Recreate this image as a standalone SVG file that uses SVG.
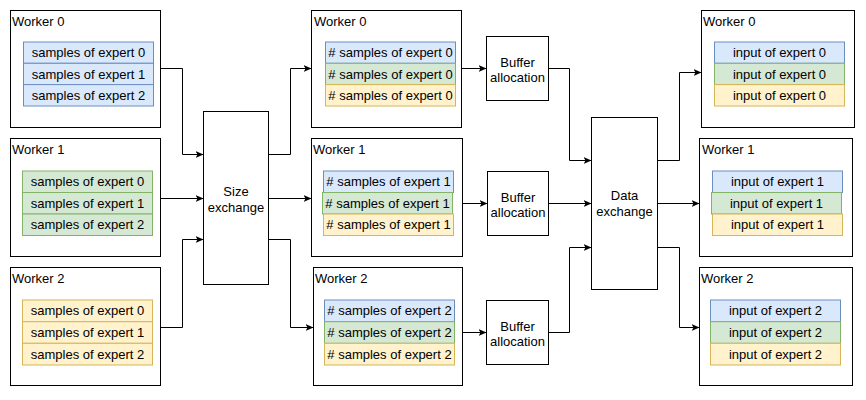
<svg xmlns="http://www.w3.org/2000/svg" width="866" height="400" viewBox="0 0 866 400">
<style>
  text { font-family: "Liberation Sans", Arial, sans-serif; font-size: 13px; fill: #000; }
  .box { fill: #fff; stroke: #000; stroke-width: 1; }
  .blue { fill: #dae8fc; stroke: #6c8ebf; stroke-width: 1; }
  .green { fill: #d5e8d4; stroke: #82b366; stroke-width: 1; }
  .yellow { fill: #fff2cc; stroke: #d6b656; stroke-width: 1; }
  .c { text-anchor: middle; }
  .conn path { fill: none; stroke: #000; stroke-width: 1; marker-end: url(#arr); }
</style>
<defs>
  <marker id="arr" viewBox="0 0 8 7" refX="8" refY="3.5" markerWidth="8" markerHeight="7" markerUnits="userSpaceOnUse" orient="auto">
    <path d="M0,0 L8,3.5 L0,7 L2,3.5 Z" fill="#000"/>
  </marker>
</defs>
<rect width="866" height="400" fill="#fff"/>

<g class="conn" id="connectors">
  <path d="M160.5,68.5 H182.5 V154.5 H203.5"/>
  <path d="M160.5,198.5 H203.5"/>
  <path d="M160.5,327.5 H182.5 V239.5 H203.5"/>
  <path d="M268.5,154.5 H290.5 V68.5 H311.5"/>
  <path d="M268.5,198.5 H311.5"/>
  <path d="M268.5,239.5 H290.5 V327.5 H313.5"/>
  <path d="M461.5,68.5 H486.5"/>
  <path d="M462.5,203.5 H487.5"/>
  <path d="M462.5,332.5 H486.5"/>
  <path d="M548.5,68.5 H569.5 V160.5 H591.5"/>
  <path d="M548.5,203.5 H591.5"/>
  <path d="M548.5,332.5 H569.5 V247.5 H591.5"/>
  <path d="M657.5,160.5 H679.5 V72.5 H701.5"/>
  <path d="M657.5,203.5 H699.5"/>
  <path d="M657.5,247.5 H679.5 V327.5 H699.5"/>
</g>

<!-- Left workers -->
<g id="src-worker0">
  <rect class="box" x="10.5" y="10.5" width="150" height="117"/>
  <text x="12" y="25.5">Worker 0</text>
  <rect class="blue" x="23.5" y="42" width="130" height="21.3"/>
  <rect class="blue" x="23.5" y="63.3" width="130" height="21.3"/>
  <rect class="blue" x="23.5" y="84.6" width="130" height="21.4"/>
  <text class="c" x="88.5" y="57.2">samples of expert 0</text>
  <text class="c" x="88.5" y="78.5">samples of expert 1</text>
  <text class="c" x="88.5" y="99.8">samples of expert 2</text>
</g>
<g id="src-worker1">
  <rect class="box" x="10.5" y="138.5" width="150" height="118"/>
  <text x="12" y="153.5">Worker 1</text>
  <rect class="green" x="22.5" y="171" width="130" height="21.5"/>
  <rect class="green" x="22.5" y="192.5" width="130" height="21.5"/>
  <rect class="green" x="22.5" y="214" width="130" height="21.5"/>
  <text class="c" x="87.5" y="186.3">samples of expert 0</text>
  <text class="c" x="87.5" y="207.8">samples of expert 1</text>
  <text class="c" x="87.5" y="229.3">samples of expert 2</text>
</g>
<g id="src-worker2">
  <rect class="box" x="10.5" y="267.5" width="150" height="118"/>
  <text x="12" y="282.5">Worker 2</text>
  <rect class="yellow" x="22.5" y="300" width="130" height="21.7"/>
  <rect class="yellow" x="22.5" y="321.7" width="130" height="21.6"/>
  <rect class="yellow" x="22.5" y="343.3" width="130" height="21.7"/>
  <text class="c" x="87.5" y="315.4">samples of expert 0</text>
  <text class="c" x="87.5" y="337">samples of expert 1</text>
  <text class="c" x="87.5" y="358.7">samples of expert 2</text>
</g>

<g id="size-exchange">
  <rect class="box" x="203.5" y="111.5" width="65" height="173"/>
  <text class="c" x="236" y="195.5">Size</text>
  <text class="c" x="236" y="211.5">exchange</text>
</g>

<!-- Middle workers -->
<g id="mid-worker0">
  <rect class="box" x="311.5" y="10.5" width="150" height="117"/>
  <text x="314" y="25.5">Worker 0</text>
  <rect class="blue" x="325.5" y="42" width="130" height="21.3"/>
  <rect class="green" x="325.5" y="63.3" width="130" height="21.3"/>
  <rect class="yellow" x="325.5" y="84.6" width="130" height="21.4"/>
  <text class="c" x="390.5" y="57.2"># samples of expert 0</text>
  <text class="c" x="390.5" y="78.5"># samples of expert 0</text>
  <text class="c" x="390.5" y="99.8"># samples of expert 0</text>
</g>
<g id="mid-worker1">
  <rect class="box" x="311.5" y="138.5" width="151" height="118"/>
  <text x="313" y="153.5">Worker 1</text>
  <rect class="blue" x="323.5" y="171" width="130" height="21.5"/>
  <rect class="green" x="322.5" y="192.5" width="130" height="21.5"/>
  <rect class="yellow" x="323.5" y="214" width="130" height="21.5"/>
  <text class="c" x="388.5" y="186.3"># samples of expert 1</text>
  <text class="c" x="387.5" y="207.8"># samples of expert 1</text>
  <text class="c" x="388.5" y="229.3"># samples of expert 1</text>
</g>
<g id="mid-worker2">
  <rect class="box" x="313.5" y="267.5" width="149" height="118"/>
  <text x="315" y="282.5">Worker 2</text>
  <rect class="blue" x="324.5" y="300" width="130" height="21.7"/>
  <rect class="green" x="324.5" y="321.7" width="130" height="21.6"/>
  <rect class="yellow" x="324.5" y="343.3" width="130" height="21.7"/>
  <text class="c" x="389.5" y="315.4"># samples of expert 2</text>
  <text class="c" x="389.5" y="337"># samples of expert 2</text>
  <text class="c" x="389.5" y="358.7"># samples of expert 2</text>
</g>

<g id="buffer0">
  <rect class="box" x="486.5" y="36.5" width="62" height="64"/>
  <text class="c" x="517.5" y="66.5">Buffer</text>
  <text class="c" x="517.5" y="81.5">allocation</text>
</g>
<g id="buffer1">
  <rect class="box" x="487.5" y="171.5" width="61" height="64"/>
  <text class="c" x="518" y="201.5">Buffer</text>
  <text class="c" x="518" y="216.5">allocation</text>
</g>
<g id="buffer2">
  <rect class="box" x="486.5" y="300.5" width="62" height="64"/>
  <text class="c" x="517.5" y="330.5">Buffer</text>
  <text class="c" x="517.5" y="345.5">allocation</text>
</g>

<g id="data-exchange">
  <rect class="box" x="591.5" y="117.5" width="66" height="172"/>
  <text class="c" x="624.5" y="200">Data</text>
  <text class="c" x="624.5" y="216">exchange</text>
</g>

<!-- Right workers -->
<g id="dst-worker0">
  <rect class="box" x="701.5" y="10.5" width="153" height="117"/>
  <text x="703" y="25.5">Worker 0</text>
  <rect class="blue" x="714.5" y="42" width="130" height="21.3"/>
  <rect class="green" x="714.5" y="63.3" width="130" height="21.3"/>
  <rect class="yellow" x="714.5" y="84.6" width="130" height="21.4"/>
  <text class="c" x="779.5" y="57.2">input of expert 0</text>
  <text class="c" x="779.5" y="78.5">input of expert 0</text>
  <text class="c" x="779.5" y="99.8">input of expert 0</text>
</g>
<g id="dst-worker1">
  <rect class="box" x="699.5" y="138.5" width="153" height="118"/>
  <text x="702" y="153.5">Worker 1</text>
  <rect class="blue" x="712.5" y="171" width="130" height="21.5"/>
  <rect class="green" x="711.5" y="192.5" width="130" height="21.5"/>
  <rect class="yellow" x="712.5" y="214" width="130" height="21.5"/>
  <text class="c" x="777.5" y="186.3">input of expert 1</text>
  <text class="c" x="776.5" y="207.8">input of expert 1</text>
  <text class="c" x="777.5" y="229.3">input of expert 1</text>
</g>
<g id="dst-worker2">
  <rect class="box" x="699.5" y="267.5" width="153" height="118"/>
  <text x="701" y="282.5">Worker 2</text>
  <rect class="blue" x="710.5" y="300" width="130" height="21.7"/>
  <rect class="green" x="710.5" y="321.7" width="130" height="21.6"/>
  <rect class="yellow" x="710.5" y="343.3" width="130" height="21.7"/>
  <text class="c" x="775.5" y="315.4">input of expert 2</text>
  <text class="c" x="775.5" y="337">input of expert 2</text>
  <text class="c" x="775.5" y="358.7">input of expert 2</text>
</g>
</svg>
